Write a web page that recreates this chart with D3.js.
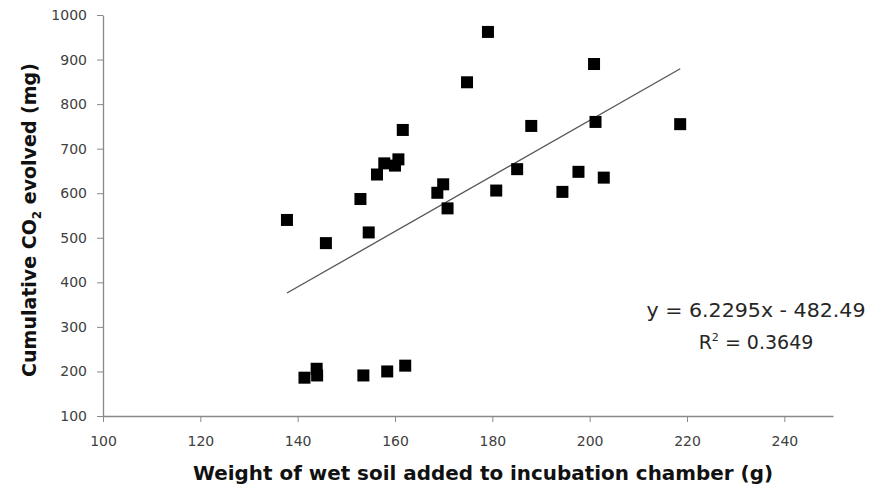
<!DOCTYPE html>
<html>
<head>
<meta charset="utf-8">
<script src="https://cdn.jsdelivr.net/npm/d3@7"></script>
<style>
  body { margin: 0; background: #fff; }
  svg { display: block; font-family: "DejaVu Sans", sans-serif; }
</style>
</head>
<body>
<svg id="chart" width="870" height="488"></svg>
<script>
// soil weight (g) vs cumulative CO2 (mg)
const soilWeight = [137.8, 145.8, 152.9, 154.6, 156.3, 157.8, 160.0, 160.7, 161.6,
  168.7, 169.9, 170.8, 174.8, 179.1, 180.8, 185.1, 188.0, 194.4, 197.7, 200.9,
  201.2, 202.9, 218.6, 141.4, 143.9, 144.0, 153.5, 158.4, 162.1]
const co2Evolved = [540, 488, 587, 512, 642, 667, 662, 676, 742,
  601, 620, 566, 849, 962, 606, 654, 751, 603, 648, 890,
  760, 635, 755, 186, 206, 191, 191, 200, 213]

const xTicks = [100, 120, 140, 160, 180, 200, 220, 240]
const yTicks = [100, 200, 300, 400, 500, 600, 700, 800, 900, 1000]

const slope = 6.2295
const intercept = -482.49
const eqLabel = "y = 6.2295x - 482.49"
const r2Label = "0.3649"

const svg = d3.select("#chart")
const margin = { left: 103, top: 15, right: 37, bottom: 72 }
const width = 870, height = 488

const x = d3.scaleLinear().domain([100, 250]).range([margin.left, width - margin.right])
const y = d3.scaleLinear().domain([100, 1000]).range([height - margin.bottom, margin.top])

const axisColor = "#898989"
const textColor = "#404040"

// axes
const xAxis = svg.append("g")
  .attr("transform", `translate(0,${y(100)})`)
  .call(d3.axisBottom(x).tickValues(xTicks).tickFormat(d3.format("d"))
    .tickSize(6).tickPadding(14).tickSizeOuter(0))
const yAxis = svg.append("g")
  .attr("transform", `translate(${x(100)},0)`)
  .call(d3.axisLeft(y).tickValues(yTicks).tickFormat(d3.format("d"))
    .tickSize(6).tickPadding(10).tickSizeOuter(0))

for (const g of [xAxis, yAxis]) {
  g.select(".domain").attr("stroke", axisColor).attr("stroke-width", 1.3)
  g.selectAll(".tick line").attr("stroke", axisColor).attr("stroke-width", 1)
  g.selectAll(".tick text")
    .attr("fill", textColor)
    .style("font-size", "14px")
    .style("font-family", "'DejaVu Sans', sans-serif")
}

// trendline over the data range
const [xMin, xMax] = d3.extent(soilWeight)
svg.append("line")
  .attr("x1", x(xMin)).attr("y1", y(slope * xMin + intercept))
  .attr("x2", x(xMax)).attr("y2", y(slope * xMax + intercept))
  .attr("stroke", "#555")
  .attr("stroke-width", 1.3)

// points
const size = 12
svg.append("g")
  .selectAll("rect")
  .data(soilWeight.map((w, i) => [w, co2Evolved[i]]))
  .join("rect")
  .attr("x", d => x(d[0]) - size / 2)
  .attr("y", d => y(d[1]) - size / 2)
  .attr("width", size)
  .attr("height", size)
  .attr("fill", "#000")

// equation
svg.append("text")
  .attr("x", 756).attr("y", 317)
  .attr("text-anchor", "middle")
  .attr("fill", "#262626")
  .attr("textLength", 219)
  .attr("lengthAdjust", "spacingAndGlyphs")
  .style("font-size", "19px")
  .text(eqLabel)
const r2 = svg.append("text")
  .attr("x", 756).attr("y", 349)
  .attr("text-anchor", "middle")
  .attr("fill", "#262626")
  .style("font-size", "19px")
r2.append("tspan").text("R")
r2.append("tspan").attr("dy", -8).style("font-size", "11px").text("2")
r2.append("tspan").attr("dy", 8).text(" = " + r2Label)

// axis titles
svg.append("text")
  .attr("x", 483).attr("y", 480)
  .attr("text-anchor", "middle")
  .attr("fill", "#111")
  .attr("textLength", 580)
  .attr("lengthAdjust", "spacingAndGlyphs")
  .style("font-size", "19px")
  .style("font-weight", "bold")
  .text("Weight of wet soil added to incubation chamber (g)")

const yTitle = svg.append("text")
  .attr("transform", "translate(36,220) rotate(-90)")
  .attr("text-anchor", "middle")
  .attr("fill", "#111")
  .style("font-size", "19px")
  .style("font-weight", "bold")
yTitle.append("tspan").text("Cumulative CO")
yTitle.append("tspan").attr("dy", 5).style("font-size", "12px").text("2")
yTitle.append("tspan").attr("dy", -5).text(" evolved (mg)")
</script>
</body>
</html>
